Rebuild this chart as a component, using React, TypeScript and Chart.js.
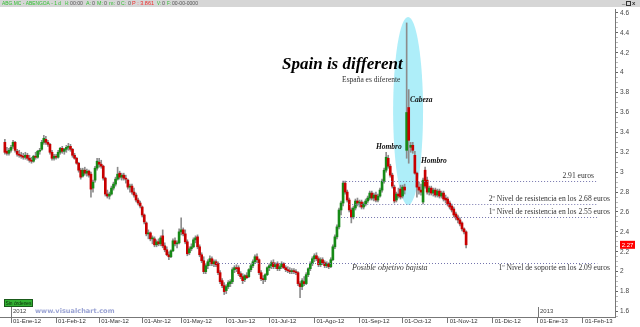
import React, { useEffect, useRef } from "react";
import { Chart, registerables } from "chart.js";

Chart.register(...registerables);

// ---------------- DATA ----------------
// Daily candles (trading-day index, first bar = -3, i.e. late Dec 2011)
const firstBar = -3;

const opens = [
  3.30,3.21,3.19,3.22,3.26,3.30,3.21,3.18,3.17,3.16,
  3.15,3.17,3.14,3.12,3.11,3.16,3.15,3.21,3.23,3.30,
  3.33,3.30,3.28,3.20,3.14,3.16,3.15,3.20,3.24,3.21,
  3.23,3.25,3.26,3.23,3.17,3.14,3.09,3.02,2.96,3.02,
  2.99,3.01,2.98,2.84,2.92,3.04,3.10,3.08,3.06,2.94,
  2.78,2.76,2.78,2.84,2.88,2.93,2.99,2.95,2.97,2.94,
  2.92,2.85,2.86,2.80,2.77,2.72,2.69,2.65,2.57,2.49,
  2.38,2.39,2.33,2.33,2.27,2.30,2.28,2.36,2.26,2.22,
  2.17,2.15,2.21,2.31,2.28,2.29,2.40,2.42,2.38,2.30,
  2.19,2.23,2.25,2.32,2.35,2.25,2.17,2.11,2.00,2.06,
  2.10,2.13,2.08,2.10,2.08,1.99,1.91,1.86,1.81,1.85,
  1.88,1.90,2.02,2.04,2.04,1.98,1.95,1.92,1.96,1.95,
  2.02,2.06,2.10,2.15,2.12,1.99,1.93,1.92,1.97,2.04,
  2.06,2.09,2.05,2.08,2.03,2.05,2.08,2.04,2.02,2.01,
  2.00,2.01,2.00,1.99,1.88,1.85,1.90,1.88,1.97,2.03,
  2.08,2.13,2.16,2.13,2.07,2.12,2.09,2.06,2.08,2.05,
  2.12,2.25,2.35,2.45,2.62,2.69,2.89,2.80,2.72,2.62,
  2.55,2.64,2.71,2.69,2.70,2.65,2.68,2.71,2.74,2.79,
  2.74,2.77,2.72,2.76,2.82,2.91,3.02,3.14,3.06,2.97,
  2.85,2.72,2.78,2.83,2.76,2.85,3.22,3.65,3.25,3.27,
  3.17,2.99,2.85,2.82,2.70,3.02,2.92,2.80,2.84,2.79,
  2.82,2.77,2.81,2.76,2.79,2.74,2.73,2.69,2.66,2.63,
  2.58,2.55,2.52,2.49,2.43,2.40,
];

const highs = [
  3.33,3.25,3.24,3.27,3.32,3.31,3.23,3.22,3.20,3.19,
  3.20,3.19,3.17,3.15,3.17,3.20,3.22,3.24,3.32,3.37,
  3.36,3.32,3.29,3.22,3.18,3.18,3.22,3.25,3.26,3.24,
  3.27,3.29,3.28,3.24,3.19,3.15,3.10,3.04,3.04,3.05,
  3.03,3.02,3.00,2.92,3.06,3.14,3.14,3.12,3.07,2.95,
  2.82,2.80,2.86,2.90,2.95,3.05,3.01,2.99,2.99,2.97,
  2.93,2.88,2.88,2.84,2.79,2.74,2.71,2.66,2.58,2.50,
  2.42,2.40,2.36,2.35,2.32,2.33,2.36,2.42,2.29,2.25,
  2.20,2.22,2.33,2.34,2.31,2.43,2.54,2.44,2.42,2.32,
  2.25,2.28,2.34,2.36,2.37,2.27,2.19,2.15,2.08,2.12,
  2.16,2.15,2.12,2.12,2.10,2.01,1.93,1.89,1.87,1.91,
  1.92,2.04,2.06,2.07,2.06,2.00,1.98,1.97,1.99,2.03,
  2.08,2.12,2.17,2.18,2.13,2.01,1.96,1.98,2.05,2.08,
  2.11,2.12,2.09,2.10,2.07,2.10,2.09,2.06,2.05,2.04,
  2.03,2.03,2.02,2.00,1.90,1.93,1.95,1.99,2.04,2.10,
  2.15,2.18,2.19,2.15,2.14,2.14,2.11,2.10,2.09,2.14,
  2.27,2.37,2.47,2.64,2.71,2.91,2.91,2.82,2.74,2.64,
  2.66,2.73,2.74,2.72,2.72,2.70,2.73,2.76,2.81,2.81,
  2.79,2.80,2.78,2.84,2.93,3.04,3.20,3.17,3.08,2.99,
  2.87,2.80,2.84,2.87,2.87,2.88,4.50,3.83,3.30,3.30,
  3.21,3.00,2.90,2.88,2.94,3.05,2.95,2.86,2.86,2.84,
  2.84,2.83,2.83,2.81,2.81,2.77,2.75,2.71,2.68,2.65,
  2.60,2.57,2.54,2.50,2.44,2.41,
];

const lows = [
  3.18,3.17,3.17,3.20,3.24,3.20,3.16,3.15,3.14,3.13,
  3.13,3.12,3.10,3.09,3.10,3.13,3.14,3.18,3.22,3.28,
  3.28,3.26,3.18,3.12,3.12,3.13,3.14,3.18,3.19,3.18,
  3.20,3.22,3.21,3.15,3.13,3.08,3.00,2.93,2.95,2.97,
  2.96,2.95,2.75,2.80,2.90,3.02,3.05,3.04,2.92,2.76,
  2.74,2.73,2.77,2.82,2.86,2.92,2.93,2.92,2.92,2.89,
  2.83,2.80,2.78,2.75,2.70,2.67,2.64,2.55,2.48,2.36,
  2.33,2.31,2.28,2.25,2.25,2.26,2.26,2.24,2.20,2.16,
  2.12,2.14,2.20,2.26,2.24,2.28,2.37,2.36,2.28,2.16,
  2.17,2.21,2.24,2.29,2.23,2.15,2.09,1.98,1.98,2.03,
  2.06,2.06,2.05,2.05,1.97,1.88,1.84,1.77,1.78,1.83,
  1.85,1.88,1.99,2.00,1.96,1.93,1.88,1.90,1.93,1.94,
  2.00,2.04,2.08,2.09,1.97,1.91,1.88,1.90,1.96,2.01,
  2.03,2.03,2.03,2.01,2.01,2.03,2.03,2.00,1.99,1.98,
  1.98,1.98,1.97,1.86,1.74,1.82,1.86,1.87,1.95,2.01,
  2.06,2.10,2.11,2.05,2.05,2.07,2.04,2.04,2.03,2.04,
  2.11,2.23,2.33,2.43,2.57,2.66,2.78,2.70,2.60,2.49,
  2.53,2.62,2.66,2.65,2.63,2.63,2.66,2.69,2.72,2.72,
  2.71,2.70,2.70,2.75,2.80,2.89,3.00,3.04,2.95,2.84,
  2.69,2.70,2.74,2.73,2.74,2.78,3.14,3.09,3.20,3.19,
  2.98,2.75,2.78,2.77,2.68,2.84,2.78,2.77,2.77,2.76,
  2.75,2.75,2.74,2.74,2.71,2.69,2.66,2.63,2.60,2.55,
  2.52,2.49,2.46,2.41,2.38,2.24,
];

const closes = [
  3.20,3.19,3.22,3.25,3.30,3.22,3.18,3.17,3.16,3.15,
  3.17,3.14,3.12,3.11,3.16,3.15,3.21,3.22,3.30,3.34,
  3.30,3.28,3.20,3.14,3.16,3.15,3.20,3.24,3.21,3.23,
  3.25,3.26,3.23,3.17,3.14,3.09,3.02,2.95,3.02,2.99,
  3.01,2.97,2.83,2.90,3.04,3.11,3.08,3.06,2.94,2.78,
  2.76,2.78,2.84,2.88,2.93,2.98,2.95,2.97,2.94,2.93,
  2.85,2.86,2.80,2.77,2.72,2.69,2.66,2.57,2.50,2.38,
  2.39,2.33,2.34,2.27,2.30,2.28,2.34,2.26,2.22,2.17,
  2.15,2.21,2.31,2.28,2.29,2.40,2.42,2.38,2.30,2.18,
  2.23,2.25,2.32,2.34,2.25,2.17,2.11,2.00,2.06,2.10,
  2.13,2.08,2.10,2.07,1.99,1.90,1.86,1.80,1.85,1.89,
  1.90,2.02,2.04,2.03,1.98,1.95,1.91,1.96,1.94,2.02,
  2.06,2.10,2.15,2.12,1.99,1.93,1.92,1.97,2.04,2.06,
  2.09,2.05,2.07,2.03,2.05,2.08,2.04,2.02,2.01,2.00,
  2.01,2.00,1.99,1.88,1.85,1.91,1.88,1.97,2.03,2.08,
  2.13,2.16,2.13,2.07,2.12,2.09,2.06,2.08,2.05,2.12,
  2.25,2.35,2.45,2.62,2.69,2.89,2.80,2.72,2.62,2.55,
  2.64,2.71,2.69,2.70,2.65,2.68,2.71,2.74,2.79,2.74,
  2.77,2.72,2.76,2.82,2.91,3.02,3.15,3.06,2.97,2.86,
  2.71,2.78,2.76,2.75,2.85,2.82,3.60,3.32,3.27,3.22,
  2.99,2.85,2.82,2.80,2.92,2.86,2.80,2.84,2.79,2.82,
  2.77,2.81,2.76,2.79,2.73,2.72,2.68,2.65,2.62,2.57,
  2.54,2.52,2.48,2.43,2.40,2.27,
];

// X axis (trading-day index) month ticks
const monthTickBars = [0, 22, 43, 64, 83, 105, 126, 148, 170, 191, 213, 235, 257, 279];
const monthTickLabels = [
  "01-Ene-12", "01-Feb-12", "01-Mar-12", "01-Abr-12", "01-May-12", "01-Jun-12", "01-Jul-12",
  "01-Ago-12", "01-Sep-12", "01-Oct-12", "01-Nov-12", "01-Dic-12", "01-Ene-13", "01-Feb-13",
];
const yearTickBars = [0, 257];
const yearTickLabels = ["2012", "2013"];

// Horizontal levels
const levelValues = [2.91, 2.68, 2.55, 2.09];
const levelStartBars = [162, 165, 161, 100];
const levelEndBar = 286;
const levelTexts = [
  "2.91 euros",
  "2º Nivel de resistencia en los 2.68 euros",
  "1º Nivel de resistencia en los 2.55 euros",
  "1º Nivel de soporte en los 2.09 euros",
];
const lastPrice = 2.27;

// ---------------- LAYOUT / STYLE ----------------
const X_MIN = -5.37;
const X_MAX = 294.63;
const Y_MIN = 1.5445;
const Y_MAX = 4.64;

const GREEN = "#168a16";
const RED = "#c80000";
const WICK = "#8c8c8c";

const levelTextPos = [
  { x: 284.4, y: 2.962 },
  { x: 292.2, y: 2.731 },
  { x: 292.2, y: 2.6 },
  { x: 292.2, y: 2.037 },
];
const ellipseBox = { x0: 186.4, x1: 201.0, y0: 2.67, y1: 4.56 };

const isMajor = (v: number) => Math.abs(v * 5 - Math.round(v * 5)) < 1e-6;

// [x, text, colour, max width]
const headerSegments: [number, string, string, number][] = [
  [2, "ABG.MC - ABENGOA - 1 d", "#2fc02f", 59],
  [65, "H:", "#2fc02f", 4],
  [70, "00:00", "#555", 13],
  [86, "A:", "#2fc02f", 5],
  [92, "0", "#555", 3],
  [97, "M:", "#2fc02f", 6],
  [104, "0", "#555", 3],
  [109, "m:", "#2fc02f", 6],
  [117, "0", "#555", 3],
  [121, "C:", "#2fc02f", 5],
  [128, "0", "#555", 3],
  [132, "P : 3.861", "#ee2a2a", 22],
  [157, "V:", "#2fc02f", 4],
  [162, "0", "#555", 3],
  [167, "F:", "#2fc02f", 4],
  [172, "00-00-0000", "#555", 26],
];

const overlayPlugin = {
  id: "overlay",
  beforeDraw(chart: any) {
    const { ctx, width, height } = chart;
    ctx.save();
    ctx.fillStyle = "#ffffff";
    ctx.fillRect(0, 0, width, height);
    ctx.fillStyle = "#d6d6d6";
    ctx.fillRect(0, 0, width, 7);
    ctx.font = "6px 'Liberation Sans'";
    ctx.textBaseline = "middle";
    ctx.textAlign = "left";
    for (const [x, t, c, w] of headerSegments) {
      ctx.fillStyle = c;
      ctx.fillText(t, x, 3.8, w);
    }
    ctx.fillStyle = "#333";
    ctx.fillText("_", 622, 2.5);
    ctx.strokeStyle = "#333";
    ctx.lineWidth = 1;
    ctx.strokeRect(626.5, 1.5, 4, 4);
    ctx.font = "bold 6px 'Liberation Sans'";
    ctx.fillText("x", 632, 3.8);
    ctx.restore();
  },
  beforeDatasetsDraw(chart: any) {
    const { ctx } = chart;
    const xs = chart.scales.x;
    const ys = chart.scales.y;
    const x0 = xs.getPixelForValue(ellipseBox.x0);
    const x1 = xs.getPixelForValue(ellipseBox.x1);
    const y0 = ys.getPixelForValue(ellipseBox.y0);
    const y1 = ys.getPixelForValue(ellipseBox.y1);
    ctx.save();
    ctx.fillStyle = "#aeeef9";
    ctx.beginPath();
    ctx.ellipse((x0 + x1) / 2, (y0 + y1) / 2, Math.abs(x1 - x0) / 2, Math.abs(y0 - y1) / 2, 0, 0, Math.PI * 2);
    ctx.fill();
    ctx.restore();
  },
  afterDatasetsDraw(chart: any) {
    const { ctx } = chart;
    const xs = chart.scales.x;
    const ys = chart.scales.y;
    const P = (bx: number, v: number) => [xs.getPixelForValue(bx), ys.getPixelForValue(v)];
    ctx.save();
    // dotted level lines
    ctx.strokeStyle = "#7474ad";
    ctx.lineWidth = 1;
    ctx.setLineDash([1, 2]);
    levelValues.forEach((v, i) => {
      const [xa, ya] = P(levelStartBars[i], v);
      const [xb] = P(levelEndBar, v);
      const yy = Math.round(ya) + 0.5;
      ctx.beginPath();
      ctx.moveTo(xa, yy);
      ctx.lineTo(xb, yy);
      ctx.stroke();
    });
    ctx.setLineDash([]);

    // level texts
    ctx.fillStyle = "#333";
    ctx.textBaseline = "middle";
    ctx.textAlign = "right";
    ctx.font = "7.6px 'Liberation Serif'";
    levelTexts.forEach((t, i) => {
      const [tx, ty] = P(levelTextPos[i].x, levelTextPos[i].y);
      ctx.fillText(t, tx, ty);
    });

    ctx.textAlign = "left";
    ctx.font = "italic 8px 'Liberation Serif'";
    {
      const [tx, ty] = P(166.3, 2.037);
      ctx.fillText("Posible objetivo bajista", tx, ty);
    }

    ctx.fillStyle = "#111";
    ctx.font = "bold italic 7.5px 'Liberation Serif'";
    {
      const [tx, ty] = P(194.6, 3.726);
      ctx.fillText("Cabeza", tx, ty);
      const [hx, hy] = P(178, 3.253);
      ctx.fillText("Hombro", hx, hy);
      const [gx, gy] = P(200, 3.113);
      ctx.fillText("Hombro", gx, gy);
    }

    ctx.fillStyle = "#000";
    ctx.textBaseline = "alphabetic";
    ctx.font = "bold italic 17px 'Liberation Serif'";
    {
      const [tx, ty] = P(132.2, 4.037);
      ctx.fillText("Spain is different", tx, ty);
    }
    ctx.fillStyle = "#333";
    ctx.textBaseline = "middle";
    ctx.font = "7.5px 'Liberation Serif'";
    {
      const [tx, ty] = P(161.5, 3.927);
      ctx.fillText("España es diferente", tx, ty);
    }
    ctx.restore();
  },
  afterDraw(chart: any) {
    const { ctx } = chart;
    const xs = chart.scales.x;
    const ys = chart.scales.y;
    ctx.save();
    // year marks
    ctx.font = "6px 'Liberation Sans'";
    ctx.textBaseline = "alphabetic";
    ctx.textAlign = "left";
    ctx.fillStyle = "#444";
    ctx.strokeStyle = "#777";
    ctx.lineWidth = 1;
    yearTickBars.forEach((b, i) => {
      const px = Math.round(xs.getPixelForValue(b)) + 0.5;
      ctx.beginPath();
      ctx.moveTo(px, 307);
      ctx.lineTo(px, 317);
      ctx.stroke();
      ctx.fillText(yearTickLabels[i], px + 1.5, 313);
    });

    // watermark
    ctx.font = "bold 6.6px 'DejaVu Sans'";
    ctx.fillStyle = "#9aa3d4";
    ctx.fillText("www.visualchart.com", 35, 313);

    // Sin órdenes box
    ctx.fillStyle = "#33b233";
    ctx.fillRect(4, 299, 29, 8);
    ctx.strokeStyle = "#1a5a1a";
    ctx.strokeRect(4.5, 299.5, 28, 7);
    ctx.fillStyle = "#0a2a0a";
    ctx.font = "5px 'Liberation Sans'";
    ctx.textBaseline = "middle";
    ctx.fillText("Sin órdenes", 5.5, 303.3, 26);

    // last price box
    const py = ys.getPixelForValue(lastPrice);
    ctx.fillStyle = "#ff0000";
    ctx.fillRect(620, py - 4, 15, 8);
    ctx.fillStyle = "#ffffff";
    ctx.font = "6px 'Liberation Sans'";
    ctx.textAlign = "center";
    ctx.fillText(String(lastPrice), 627.5, py + 0.3);
    ctx.restore();
  },
};

export default function App() {
  const canvasRef = useRef<HTMLCanvasElement | null>(null);

  useEffect(() => {
    document.body.style.margin = "0";
    const canvas = canvasRef.current;
    if (!canvas) return;

    const wickData = highs.map((h, i) => ({ x: firstBar + i, y: [lows[i], h] }));
    const bodyData = opens.map((o, i) => ({ x: firstBar + i, y: [Math.min(o, closes[i]), Math.max(o, closes[i])] }));
    const bodyColors = opens.map((o, i) => (closes[i] >= o ? GREEN : RED));

    const chart = new Chart(canvas, {
      type: "bar",
      data: {
        datasets: [
          {
            label: "body",
            data: bodyData as any,
            backgroundColor: bodyColors,
            borderWidth: 0,
            barThickness: 2,
            grouped: false,
            order: 1,
          } as any,
          {
            label: "wick",
            data: wickData as any,
            backgroundColor: WICK,
            borderWidth: 0,
            barThickness: 1,
            grouped: false,
            order: 2,
          } as any,
        ],
      },
      options: {
        animation: false,
        responsive: false,
        maintainAspectRatio: false,
        events: [],
        layout: { padding: { top: 9, left: 0, right: 0, bottom: 0 } },
        plugins: { legend: { display: false }, tooltip: { enabled: false } },
        scales: {
          x: {
            type: "linear",
            min: X_MIN,
            max: X_MAX,
            offset: false,
            afterBuildTicks: (s: any) => {
              s.ticks = monthTickBars.map((v) => ({ value: v }));
            },
            afterFit: (s: any) => {
              s.height = 10;
            },
            ticks: {
              autoSkip: false,
              maxRotation: 0,
              align: "start",
              labelOffset: 2,
              padding: -5,
              color: "#333",
              font: { family: "'Liberation Sans'", size: 6 },
              callback: (_v: any, i: number) => monthTickLabels[i],
            },
            grid: { display: true, drawOnChartArea: false, drawTicks: true, tickLength: 6, color: "#777", offset: false },
            border: { display: true, color: "#777" },
          } as any,
          y: {
            type: "linear",
            position: "right",
            min: Y_MIN,
            max: Y_MAX,
            afterFit: (s: any) => {
              s.width = 25;
            },
            ticks: {
              stepSize: 0.05,
              includeBounds: false,
              autoSkip: false,
              padding: 2,
              color: "#444",
              font: { family: "'Liberation Sans'", size: 6.5 },
              callback: (v: any) => (isMajor(Number(v)) ? String(Math.round(Number(v) * 10) / 10) : ""),
            },
            grid: {
              display: true,
              drawOnChartArea: false,
              drawTicks: true,
              tickLength: 3,
              color: (c: any) => (c.tick && isMajor(c.tick.value) ? "#666" : "#bbb"),
            },
            border: { display: true, color: "#777" },
          } as any,
        },
      },
      plugins: [overlayPlugin],
    });

    return () => chart.destroy();
  }, []);

  return (
    <div style={{ position: "fixed", left: 0, top: 0, width: 640, height: 327, background: "#fff" }}>
      <canvas ref={canvasRef} width={640} height={327} style={{ display: "block", width: 640, height: 327 }} />
    </div>
  );
}
